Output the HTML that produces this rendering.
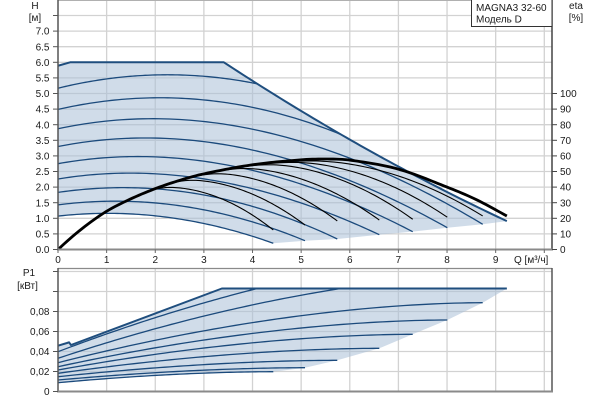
<!DOCTYPE html>
<html><head><meta charset="utf-8">
<style>
html,body{margin:0;padding:0;background:#fff;width:600px;height:400px;overflow:hidden}
svg{display:block}
text{font-family:"Liberation Sans",Arial,sans-serif;font-size:10px;fill:#1a1a1a}
</style></head><body>
<svg id="c" width="600" height="400" viewBox="0 0 600 400" xmlns="http://www.w3.org/2000/svg">
<rect width="600" height="400" fill="#fff"/>
<g id="grid" stroke="#d2d2d2" stroke-width="1.3" fill="none"></g>
<g id="fill"></g>
<g id="blue" fill="none" stroke="#1b4a7c" stroke-width="1.3" stroke-linejoin="round"></g>
<g id="black" fill="none" stroke="#000" stroke-width="1.1" stroke-linejoin="round"></g>
<g id="axes" fill="none"></g>
<g id="labels">
<text x="35" y="9" text-anchor="middle">H</text>
<text x="35" y="21" text-anchor="middle">[м]</text>
<text x="49.5" y="34.7" text-anchor="end">7.0</text>
<text x="49.5" y="50.3" text-anchor="end">6.5</text>
<text x="49.5" y="65.9" text-anchor="end">6.0</text>
<text x="49.5" y="81.5" text-anchor="end">5.5</text>
<text x="49.5" y="97.1" text-anchor="end">5.0</text>
<text x="49.5" y="112.7" text-anchor="end">4.5</text>
<text x="49.5" y="128.3" text-anchor="end">4.0</text>
<text x="49.5" y="143.9" text-anchor="end">3.5</text>
<text x="49.5" y="159.5" text-anchor="end">3.0</text>
<text x="49.5" y="175.1" text-anchor="end">2.5</text>
<text x="49.5" y="190.7" text-anchor="end">2.0</text>
<text x="49.5" y="206.3" text-anchor="end">1.5</text>
<text x="49.5" y="221.9" text-anchor="end">1.0</text>
<text x="49.5" y="237.5" text-anchor="end">0.5</text>
<text x="49.5" y="253.1" text-anchor="end">0.0</text>

<text x="576" y="9" text-anchor="middle">eta</text>
<text x="576" y="21" text-anchor="middle">[%]</text>
<text x="560" y="97.1">100</text>
<text x="560" y="112.7">90</text>
<text x="560" y="128.3">80</text>
<text x="560" y="143.9">70</text>
<text x="560" y="159.5">60</text>
<text x="560" y="175.1">50</text>
<text x="560" y="190.7">40</text>
<text x="560" y="206.3">30</text>
<text x="560" y="221.9">20</text>
<text x="560" y="237.5">10</text>
<text x="560" y="253.1">0</text>

<text x="58" y="263" text-anchor="middle">0</text>
<text x="106.6" y="263" text-anchor="middle">1</text>
<text x="155.3" y="263" text-anchor="middle">2</text>
<text x="203.9" y="263" text-anchor="middle">3</text>
<text x="252.5" y="263" text-anchor="middle">4</text>
<text x="301.2" y="263" text-anchor="middle">5</text>
<text x="349.8" y="263" text-anchor="middle">6</text>
<text x="398.4" y="263" text-anchor="middle">7</text>
<text x="447.0" y="263" text-anchor="middle">8</text>
<text x="495.7" y="263" text-anchor="middle">9</text>
<text x="514" y="263">Q [м³/ч]</text>

<text x="29" y="276" text-anchor="middle">P1</text>
<text x="27.5" y="289" text-anchor="middle">[кВт]</text>
<text x="49.5" y="315.1" text-anchor="end">0,08</text>
<text x="49.5" y="335.1" text-anchor="end">0,06</text>
<text x="49.5" y="355.1" text-anchor="end">0,04</text>
<text x="49.5" y="375.1" text-anchor="end">0,02</text>
<text x="49.5" y="395.1" text-anchor="end">0</text>
</g>
<g id="legend">
<rect x="471.5" y="-1" width="80.5" height="27.5" fill="#fff" stroke="#333" stroke-width="1"/>
<text x="476" y="11">MAGNA3 32-60</text>
<text x="476" y="22.5">Модель D</text>
</g>
</svg>
<script>
(function(){
const NS='http://www.w3.org/2000/svg';
function el(id,tag,a){const e=document.createElementNS(NS,tag);for(const k in a)e.setAttribute(k,a[k]);const p=typeof id==='string'?document.getElementById(id):id;p.appendChild(e);return e;}
const X=q=>58+48.63*q, YH=h=>249.5-31.2*h, YE=e=>249.5-1.56*e, YP=p=>391.5-1000*p;
function d(pts){return 'M'+pts.map(p=>p[0].toFixed(2)+','+p[1].toFixed(2)).join(' L');}

for(let h=0.5;h<=7.51;h+=0.5){el('grid','line',{x1:58,x2:552,y1:YH(h),y2:YH(h)});}
for(let q=1;q<=10;q++){el('grid','line',{x1:X(q),x2:X(q),y1:0,y2:249.5});}
for(let p=0.02;p<=0.121;p+=0.02){el('grid','line',{x1:58,x2:552,y1:YP(p),y2:YP(p)});}
for(let q=1;q<=10;q++){el('grid','line',{x1:X(q),x2:X(q),y1:268.5,y2:391.5});}

const Lim=q=>6-0.9644*(q-3.41)+0.02515*(q-3.41)*(q-5.66);

function det3(m){return m[0][0]*(m[1][1]*m[2][2]-m[1][2]*m[2][1])-m[0][1]*(m[1][0]*m[2][2]-m[1][2]*m[2][0])+m[0][2]*(m[1][0]*m[2][1]-m[1][1]*m[2][0]);}
function solve(M,v){const D=det3(M);return [0,1,2].map(j=>det3(M.map((row,i)=>row.map((x,k)=>k===j?v[i]:x)))/D);}

const H0=[5.17,4.49,3.87,3.30,2.75,2.26,1.83,1.43,1.07];
const ENDS=[null,null,[8.733,0.808],[8.005,0.699],[7.294,0.571],[6.607,0.474],[5.743,0.337],[5.079,0.282],[4.427,0.199]];
const curves=[];
for(let i=0;i<9;i++){
  const h0=H0[i], r=Math.sqrt(h0/5.17), qp=2.25*r, R=0.43*r*r;
  let a,b,c,qe,he;
  if(!ENDS[i]){
    b=R/(qp*qp); a=2*b*qp; c=0;
    const f=q=>h0+a*q-b*q*q;
    let lo=3.41,hi=9.23;
    for(let k=0;k<60;k++){const m=(lo+hi)/2; if(f(m)-Lim(m)<0)lo=m; else hi=m;}
    qe=(lo+hi)/2; he=f(qe);
  } else {
    qe=ENDS[i][0]; he=ENDS[i][1];
    const s=solve([[qp,-qp*qp,qp*qp*qp],[1,-2*qp,3*qp*qp],[qe,-qe*qe,qe*qe*qe]],[R,0,he-h0]);
    a=s[0];b=s[1];c=s[2];
  }
  const f=q=>h0+a*q-b*q*q+c*q*q*q;
  curves.push({f,qe,he});
}

let poly=[[X(0),YH(5.89)],[X(0.25),YH(6.0)],[X(3.41),YH(6.0)]];
for(let k=1;k<=60;k++){const q=3.41+(9.23-3.41)*k/60;poly.push([X(q),YH(Lim(q))]);}
const maxTop=poly.slice();
for(let i=2;i<=8;i++)poly.push([X(curves[i].qe),YH(curves[i].he)]);
{const c8=curves[8];for(let k=60;k>=0;k--){const q=c8.qe*k/60;poly.push([X(q),YH(c8.f(q))]);}}
el('fill','path',{d:d(poly)+' Z',fill:'rgb(170,191,215)','fill-opacity':'0.55',stroke:'none'});

for(let i=0;i<9;i++){
  const cv=curves[i];const pts=[];
  for(let k=0;k<=80;k++){const q=cv.qe*k/80;pts.push([X(q),YH(cv.f(q))]);}
  el('blue','path',{d:d(pts)});
}
el('blue','path',{d:d(maxTop),'stroke-width':2,stroke:'#1f4e7e'});

const TP=[[0,0],[0.5,13.5],[1,24.5],[1.5,32.5],[2,39],[2.5,44.3],[3,48.5],[4,54.3],[5,57.5],[5.5,58],[6,57.3],[7,51.5],[8,40],[8.6,32],[9.23,21.5]];
const n=TP.length;
const M=TP.map((p,i)=>{ if(i===0)return 29; if(i===n-1)return (TP[n-1][1]-TP[n-2][1])/(TP[n-1][0]-TP[n-2][0]); return (TP[i+1][1]-TP[i-1][1])/(TP[i+1][0]-TP[i-1][0]);});
function thick(q){
  let i=0; while(i<n-2 && q>TP[i+1][0])i++;
  const x0=TP[i][0],x1=TP[i+1][0],h=x1-x0,t=(q-x0)/h;
  const y0=TP[i][1],y1=TP[i+1][1];
  const h00=2*t*t*t-3*t*t+1,h10=t*t*t-2*t*t+t,h01=-2*t*t*t+3*t*t,h11=t*t*t-t*t;
  return h00*y0+h10*h*M[i]+h01*y1+h11*h*M[i+1];
}
function smin(a,b,k){const m=Math.min(a,b);return m-k*Math.log(Math.exp(-(a-m)/k)+Math.exp(-(b-m)/k));}
const EP=[[5.0,57.5,8.733,21.5],[4.6,56.5,8.005,20.7],[4.1,55,7.294,19.4],[3.6,52.5,6.607,18.9],[3.1,49,5.743,18.3],[2.6,44.7,5.079,15.7],[2.2,40,4.427,12.5]];
EP.forEach(([qp,Ep,qe,Ee])=>{
  const own=q=>q<=qp?Ep*(1-Math.pow(1-q/qp,3)):Ep-(Ep-Ee)*Math.pow((q-qp)/(qe-qp),2);
  const pts=[];
  for(let k=0;k<=120;k++){const q=qe*k/120;let v=smin(thick(q),own(q),1.2);if(q<0.3)v=Math.min(v,thick(q));if(v<0)v=0;pts.push([X(q),YE(v)]);}
  el('black','path',{d:d(pts)});
});
{const pts=[];for(let k=0;k<=150;k++){const q=9.23*k/150;pts.push([X(q),YE(thick(q))]);}
 el('black','path',{d:d(pts),'stroke-width':2.8});}

const P0=[0.0398,0.0332,0.0288,0.0248,0.0215,0.0182,0.0148,0.0115,0.0088];
const PE=[0.103,0.103,0.0888,0.0715,0.0572,0.0432,0.0312,0.0238,0.0198];
const QQ=[10.2,9.5,null,null,null,null,null,null,null];
const g=x=>1-Math.pow(1-Math.min(x,1),1.8);
const pcur=[];
for(let i=0;i<9;i++){
  const qe=curves[i].qe, Q=QQ[i]||qe;
  const K=(PE[i]-P0[i])/g(qe/Q);
  const f=q=>P0[i]+K*g(q/Q);
  pcur.push({f,qe});
}
let pp=[[58,345.7],[67,343],[69,342.3],[71,345],[X(3.37),YP(0.103)],[X(9.23),YP(0.103)]];
const pmax=pp.slice();
for(let i=2;i<=8;i++)pp.push([X(pcur[i].qe),YP(PE[i])]);
{const c8=pcur[8];for(let k=60;k>=0;k--){const q=c8.qe*k/60;pp.push([X(q),YP(c8.f(q))]);}}
el('fill','path',{d:d(pp)+' Z',fill:'rgb(170,191,215)','fill-opacity':'0.55',stroke:'none'});
for(let i=0;i<9;i++){
  const c=pcur[i];const pts=[];
  for(let k=0;k<=60;k++){const q=c.qe*k/60;pts.push([X(q),YP(c.f(q))]);}
  el('blue','path',{d:d(pts)});
}
el('blue','path',{d:d(pmax),'stroke-width':2,stroke:'#1f4e7e'});

const A='axes';
el(A,'line',{x1:58,x2:552,y1:0.5,y2:0.5,stroke:'#b0b0b0','stroke-width':1});
el(A,'line',{x1:58,x2:58,y1:0,y2:250,stroke:'#555','stroke-width':1.5});
el(A,'line',{x1:552,x2:552,y1:0,y2:250,stroke:'#444','stroke-width':1.5});
el(A,'line',{x1:57,x2:553,y1:249.5,y2:249.5,stroke:'#8a8a8a','stroke-width':2});
for(let h=0;h<=7.51;h+=0.5)el(A,'line',{x1:53,x2:58,y1:YH(h),y2:YH(h),stroke:'#555','stroke-width':1});
for(let e=0;e<=100;e+=10)el(A,'line',{x1:552,x2:557,y1:YE(e),y2:YE(e),stroke:'#444','stroke-width':1});
for(let q=0;q<=10;q++)el(A,'line',{x1:X(q),x2:X(q),y1:249.5,y2:253,stroke:'#666','stroke-width':1});
el(A,'line',{x1:58,x2:552,y1:268.5,y2:268.5,stroke:'#8a8a8a','stroke-width':1.3});
el(A,'line',{x1:58,x2:58,y1:268,y2:392,stroke:'#555','stroke-width':1.5});
el(A,'line',{x1:552,x2:552,y1:268,y2:392,stroke:'#555','stroke-width':1.5});
el(A,'line',{x1:57,x2:553,y1:391.5,y2:391.5,stroke:'#8a8a8a','stroke-width':2});
for(let p=0;p<=0.121;p+=0.02)el(A,'line',{x1:53,x2:58,y1:YP(p),y2:YP(p),stroke:'#555','stroke-width':1});
})();
</script>
</body></html>
